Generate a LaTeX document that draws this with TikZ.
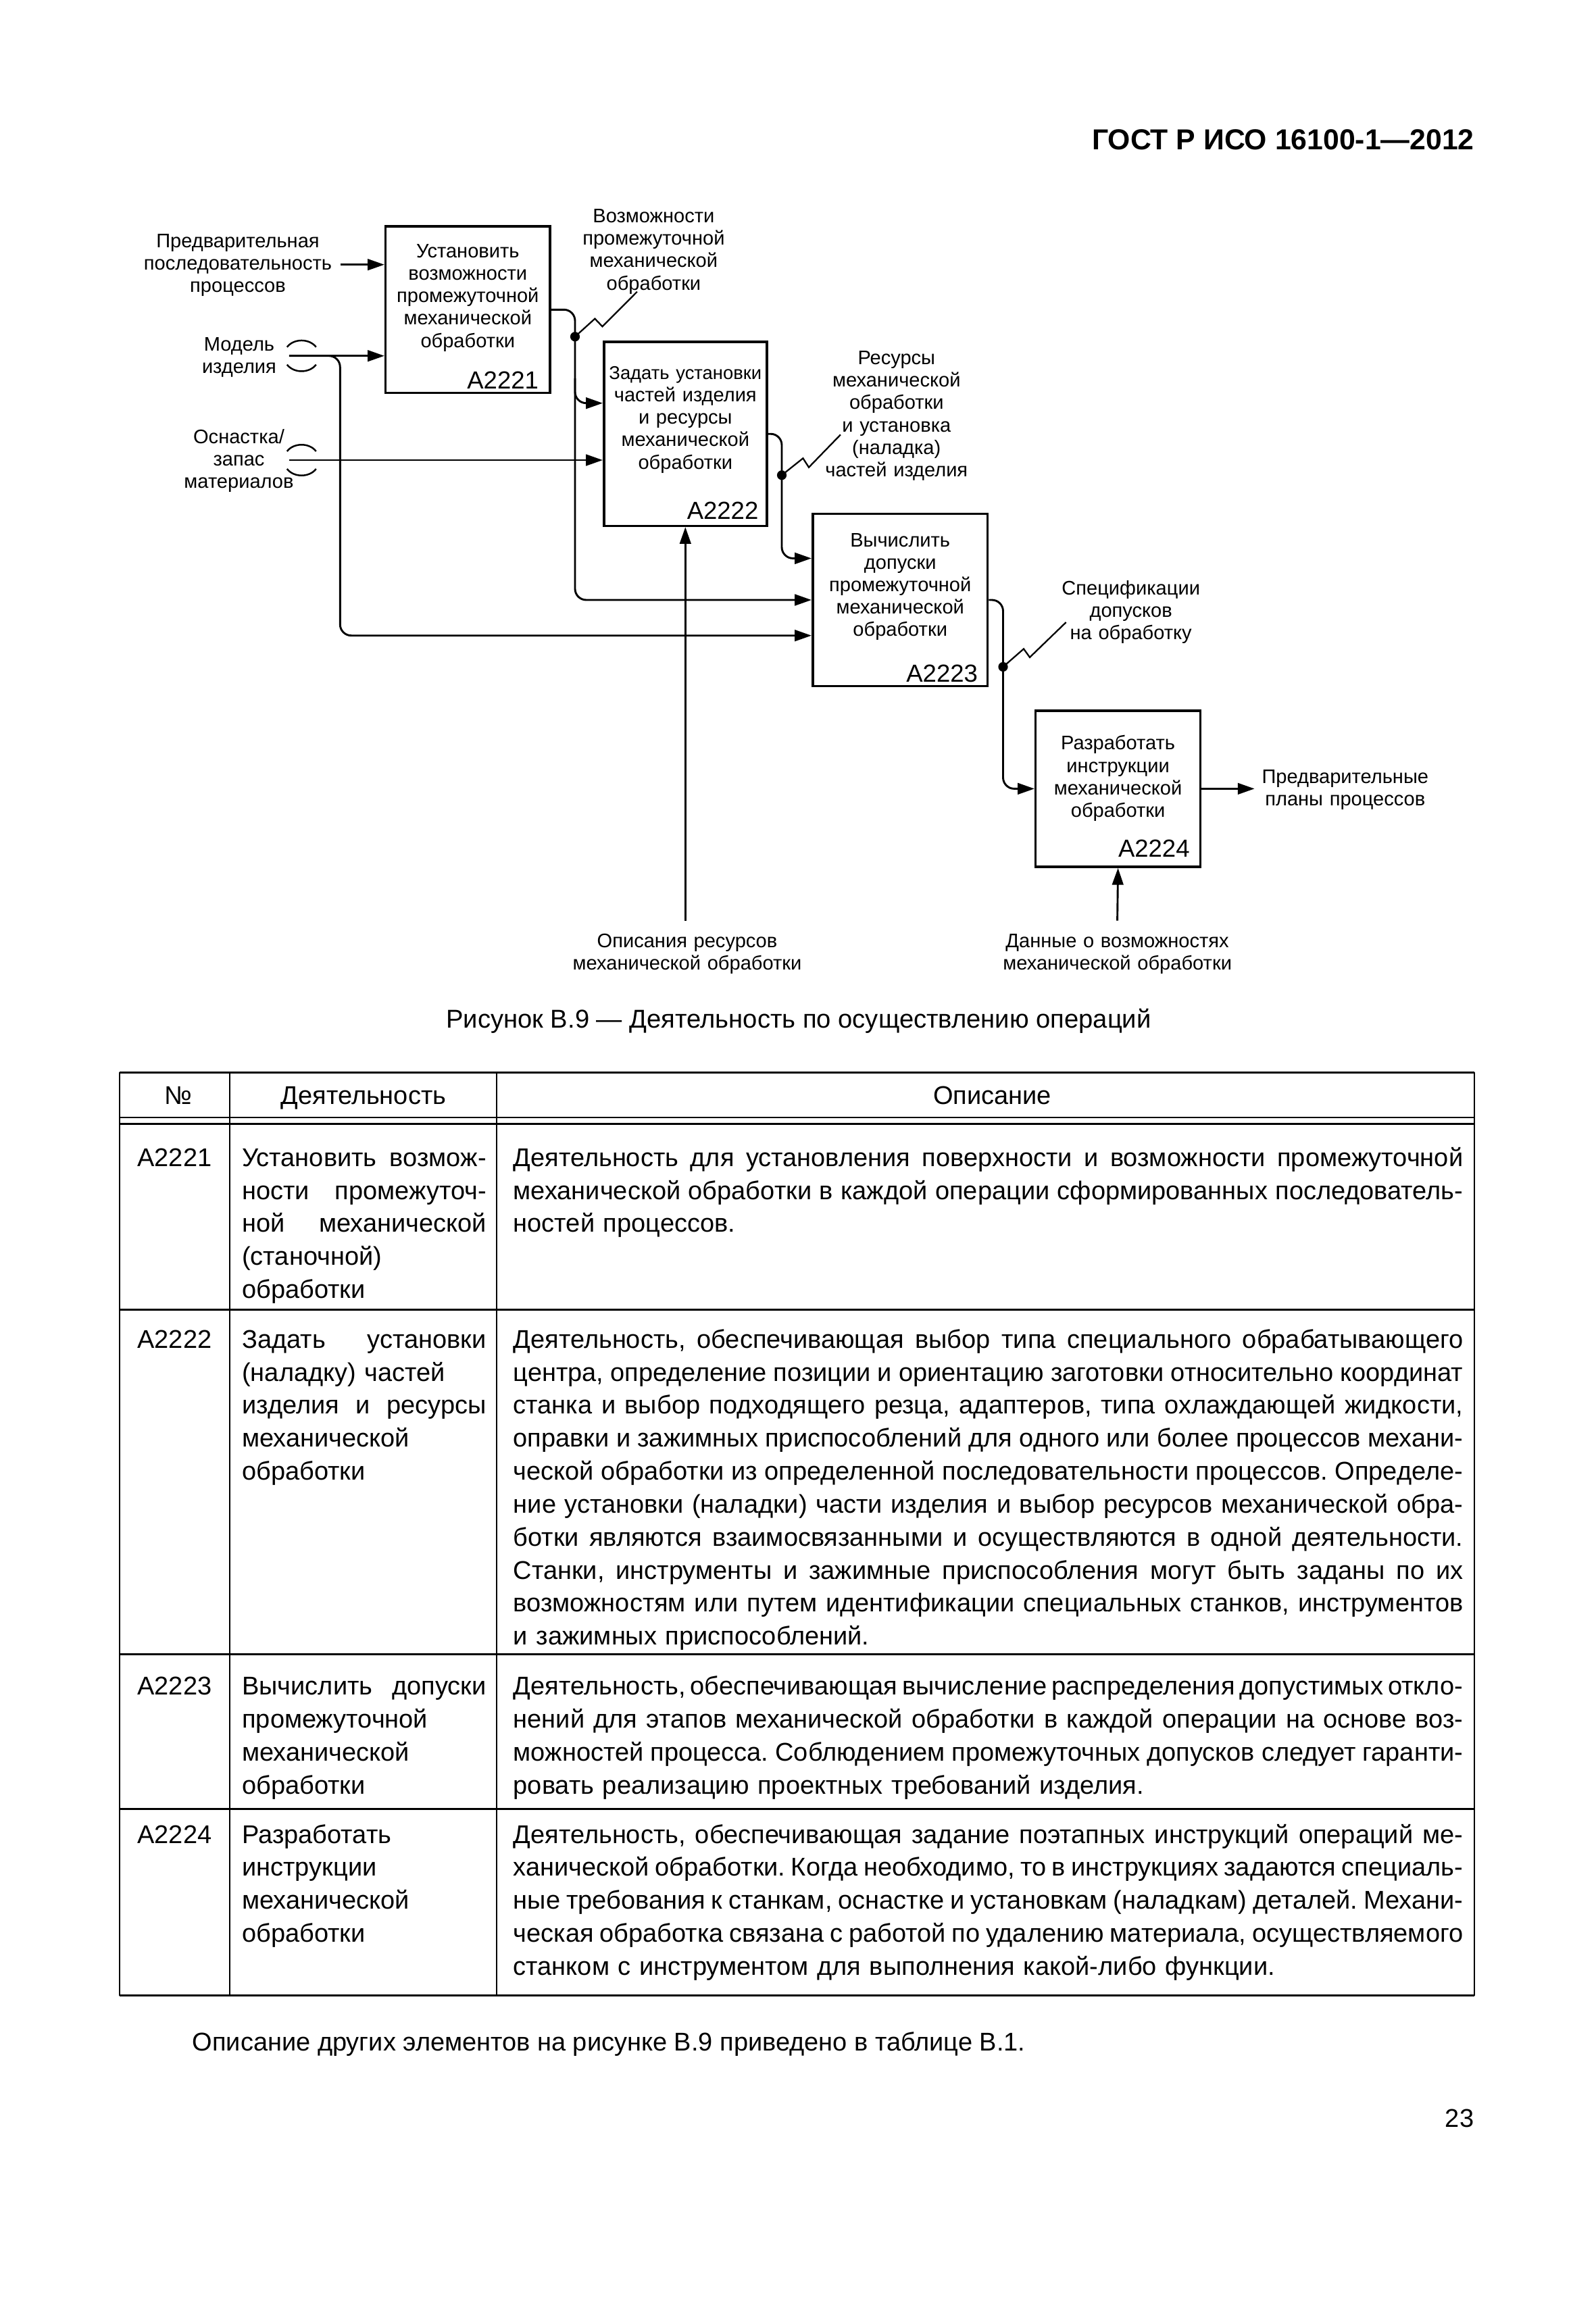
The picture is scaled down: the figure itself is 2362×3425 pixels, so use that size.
\documentclass[tikz,border=0pt]{standalone}
\usepackage{fontspec}
\setmainfont{Liberation Sans}
\usetikzlibrary{arrows.meta, positioning, calc}
\frenchspacing

\newcommand{\jl}[1]{\makebox[\linewidth][s]{\spaceskip=0.26em plus 1em minus 0.11em\relax #1}}
\newcommand{\tunnel}[1]{%
  \draw[arc] ($(#1)+(-3,-13)$) .. controls +(10,-13) and +(-10,-13) .. ($(#1)+(40,-13)$);
  \draw[arc] ($(#1)+(-3,13)$) .. controls +(10,13) and +(-10,13) .. ($(#1)+(40,13)$);}

\begin{document}
\begin{tikzpicture}[
    x=0.084667mm, y=-0.084667mm,
    box/.style={rectangle, draw, line width=0.85pt, inner sep=0pt},
    boxtext/.style={text width=24mm, align=center, anchor=base, inner sep=0pt, font=\fontsize{7}{8}\selectfont},
    boxid/.style={anchor=base east, inner sep=0pt, font=\fontsize{8.8}{10}\selectfont},
    lbl/.style={text width=40mm, align=center, anchor=base, inner sep=0pt, font=\fontsize{7}{8}\selectfont},
    arrow/.style={-{Triangle[length=2.1mm, width=1.4mm]}, line width=0.7pt},
    flow/.style={arrow, rounded corners=1.4mm},
    arc/.style={line width=0.6pt},
    squig/.style={line width=0.55pt},
    dot/.style={circle, fill, inner sep=0pt, minimum size=1.2mm},
    tbl/.style={font=\fontsize{9.15}{11.76}\selectfont, inner sep=0pt, anchor=base west, align=left},
    thickrule/.style={line width=0.8pt},
    thinrule/.style={line width=0.4pt}
]
    \fill[white] (0,0) rectangle (2362,3425);
    \useasboundingbox (0,0) rectangle (2362,3425);

    \node[anchor=base east, inner sep=0pt, font=\fontsize{10.3}{12}\selectfont\bfseries] (hdr) at (2182.6,221.7) {ГОСТ Р ИСО 16100-1—2012};

    \node[box, minimum width=20.60mm, minimum height=20.89mm] (a1) at (692.3,458.3) {};
    \node[box, minimum width=20.41mm, minimum height=23.05mm] (a2) at (1014.3,642.2) {};
    \node[box, minimum width=21.92mm, minimum height=21.62mm] (a3) at (1332.2,888) {};
    \node[box, minimum width=20.64mm, minimum height=19.58mm] (a4) at (1654.6,1167.4) {};

    \node[boxtext] (a1t) at (692.3,381.2) {Установить\\возможности\\промежуточной\\механической\\обработки};
    \node[boxtext] (a2t) at (1014.3,561.2) {{\fontsize{6.6}{8}\selectfont Задать установки}\\частей изделия\\и ресурсы\\механической\\обработки};
    \node[boxtext] (a3t) at (1332.2,809.1) {Вычислить\\допуски\\промежуточной\\механической\\обработки};
    \node[boxtext] (a4t) at (1654.6,1109.9) {Разработать\\инструкции\\механической\\обработки};

    \node[boxid] (a1id) at ([shift={(-17.9,-8.3)}]a1.south east) {A2221};
    \node[boxid] (a2id) at ([shift={(-13.4,-11.6)}]a2.south east) {A2222};
    \node[boxid] (a3id) at ([shift={(-15.6,-8)}]a3.south east) {A2223};
    \node[boxid] (a4id) at ([shift={(-16.8,-16.1)}]a4.south east) {A2224};

    \node[lbl] (seq) at (352,366.2) {Предварительная\\последовательность\\процессов};
    \node[lbl] (mod) at (354,519.5) {Модель\\изделия};
    \node[lbl] (osn) at (353.5,656.2) {Оснастка/\\запас\\материалов};
    \node[lbl] (vozm) at (967.4,329.5) {Возможности\\промежуточной\\механической\\обработки};
    \node[lbl] (res) at (1326.8,539.5) {Ресурсы\\механической\\обработки\\и установка\\(наладка)\\частей изделия};
    \node[lbl] (spec) at (1673.7,880.5) {Спецификации\\допусков\\на обработку};
    \node[lbl] (plan) at (1990.8,1159.5) {Предварительные\\планы процессов};
    \node[lbl] (opis) at (1017,1402.3) {Описания ресурсов\\механической обработки};
    \node[lbl] (dann) at (1653.6,1402.3) {Данные о возможностях\\механической обработки};

    \coordinate (seqin) at (503.7,391.7);
    \coordinate (modin) at (427.8,526.7);
    \coordinate (osnin) at (427.8,681);
    \coordinate (resin) at (1014.3,1363);
    \coordinate (datin) at (1653.6,1362.6);
    \coordinate (planout) at (1856.6,1167.4);

    \draw[arrow] (seqin) -- (seqin -| a1.west);
    \draw[arrow] (modin) -- (modin -| a1.west);
    \draw[flow] (modin) -- (503.3,526.7) -- (503.3,940.7) -- (a3.west |- 0,940.7);
    \draw[arrow] (osnin) -- (osnin -| a2.west);
    \tunnel{modin}
    \tunnel{osnin}

    \draw[flow] (a1.east) -- (851,458.3) -- (851,596.7) -- (a2.west |- 0,596.7);
    \draw[flow] (851,560) -- (851,888) -- (a3.west);
    \draw[flow] (a2.east) -- (1157,642.2) -- (1157,826.4) -- (a3.west |- 0,826.4);
    \draw[flow] (a3.east) -- (1484.5,888) -- (1484.5,1167.4) -- (a4.west);
    \draw[arrow] (a4.east) -- (planout);
    \draw[arrow] (resin) -- (a2.south);
    \draw[arrow] (datin) -- (a4.south);

    \node[dot] (d1) at (851,498.3) {};
    \node[dot] (d2) at (1157,703.3) {};
    \node[dot] (d3) at (1484.5,987) {};
    \draw[squig] (d1.center) -- ++(29.4,-26.6) -- ++(11.1,11.6) -- ++(51.4,-51.6);
    \draw[squig] (d2.center) -- ++(31.4,-25) -- ++(8.6,13.4) -- ++(47,-48.4);
    \draw[squig] (d3.center) -- ++(30.5,-26.6) -- ++(9,12.5) -- ++(53.7,-51.9);

    \node[anchor=base, inner sep=0pt, font=\fontsize{9.2}{11}\selectfont] (cap) at (1182,1521.7) {Рисунок В.9 — Деятельность по осуществлению операций};

    \draw[thickrule] (176.8,1587.3) -- (2182,1587.3);
    \draw[thinrule] (176.8,1654.3) -- (2182,1654.3);
    \draw[thickrule] (176.8,1663.3) -- (2182,1663.3);
    \draw[thickrule] (176.8,1938.3) -- (2182,1938.3);
    \draw[thickrule] (176.8,2448.4) -- (2182,2448.4);
    \draw[thickrule] (176.8,2677.2) -- (2182,2677.2);
    \draw[thickrule] (176.8,2953.7) -- (2182,2953.7);
    \foreach \x in {176.8,340,735,2182}
        \draw[thinrule] (\x,1587.3) -- (\x,2953.7);

    \node[tbl, anchor=base] (hnum) at (263.8,1634.7) {№};
    \node[tbl, anchor=base] (hact) at (538,1634.7) {Деятельность};
    \node[tbl, anchor=base] (hdesc) at (1468.6,1634.7) {Описание};

    \node[tbl, anchor=base] (n1) at (258.4,1726.3) {A2221};
    \node[tbl, text width=30.6mm] (t1) at (357.5,1726.3) {\jl{Установить возмож-}\\\jl{ности промежуточ-}\\\jl{ной механической}\\(станочной)\\обработки};
    \node[tbl, text width=119mm] (s1) at (759,1726.3) {\jl{Деятельность для установления поверхности и возможности промежуточной}\\\jl{механической обработки в каждой операции сформированных последователь-}\\ностей процессов.};

    \node[tbl, anchor=base] (n2) at (258.4,1995.3) {A2222};
    \node[tbl, text width=30.6mm] (t2) at (357.5,1995.3) {\jl{Задать установки}\\(наладку) частей\\\jl{изделия и ресурсы}\\механической\\обработки};
    \node[tbl, text width=119mm] (s2) at (759,1995.3) {\jl{Деятельность, обеспечивающая выбор типа специального обрабатывающего}\\\jl{центра, определение позиции и ориентацию заготовки относительно координат}\\\jl{станка и выбор подходящего резца, адаптеров, типа охлаждающей жидкости,}\\\jl{оправки и зажимных приспособлений для одного или более процессов механи-}\\\jl{ческой обработки из определенной последовательности процессов. Определе-}\\\jl{ние установки (наладки) части изделия и выбор ресурсов механической обра-}\\\jl{ботки являются взаимосвязанными и осуществляются в одной деятельности.}\\\jl{Станки, инструменты и зажимные приспособления могут быть заданы по их}\\\jl{возможностям или путем идентификации специальных станков, инструментов}\\и зажимных приспособлений.};

    \node[tbl, anchor=base] (n3) at (258.4,2508.6) {A2223};
    \node[tbl, text width=30.6mm] (t3) at (357.5,2508.6) {\jl{Вычислить допуски}\\промежуточной\\механической\\обработки};
    \node[tbl, text width=119mm] (s3) at (759,2508.6) {\jl{Деятельность, обеспечивающая вычисление распределения допустимых откло-}\\\jl{нений для этапов механической обработки в каждой операции на основе воз-}\\\jl{можностей процесса. Соблюдением промежуточных допусков следует гаранти-}\\ровать реализацию проектных требований изделия.};

    \node[tbl, anchor=base] (n4) at (258.4,2728) {A2224};
    \node[tbl, text width=30.6mm] (t4) at (357.5,2728) {Разработать\\инструкции\\механической\\обработки};
    \node[tbl, text width=119mm] (s4) at (759,2728) {\jl{Деятельность, обеспечивающая задание поэтапных инструкций операций ме-}\\\jl{ханической обработки. Когда необходимо, то в инструкциях задаются специаль-}\\\jl{ные требования к станкам, оснастке и установкам (наладкам) деталей. Механи-}\\\jl{ческая обработка связана с работой по удалению материала, осуществляемого}\\станком с инструментом для выполнения какой-либо функции.};

    \node[tbl] (note) at (283.9,3035) {Описание других элементов на рисунке В.9 приведено в таблице В.1.};
    \node[tbl, anchor=base east] (pg) at (2182,3148) {23};
\end{tikzpicture}
\end{document}
